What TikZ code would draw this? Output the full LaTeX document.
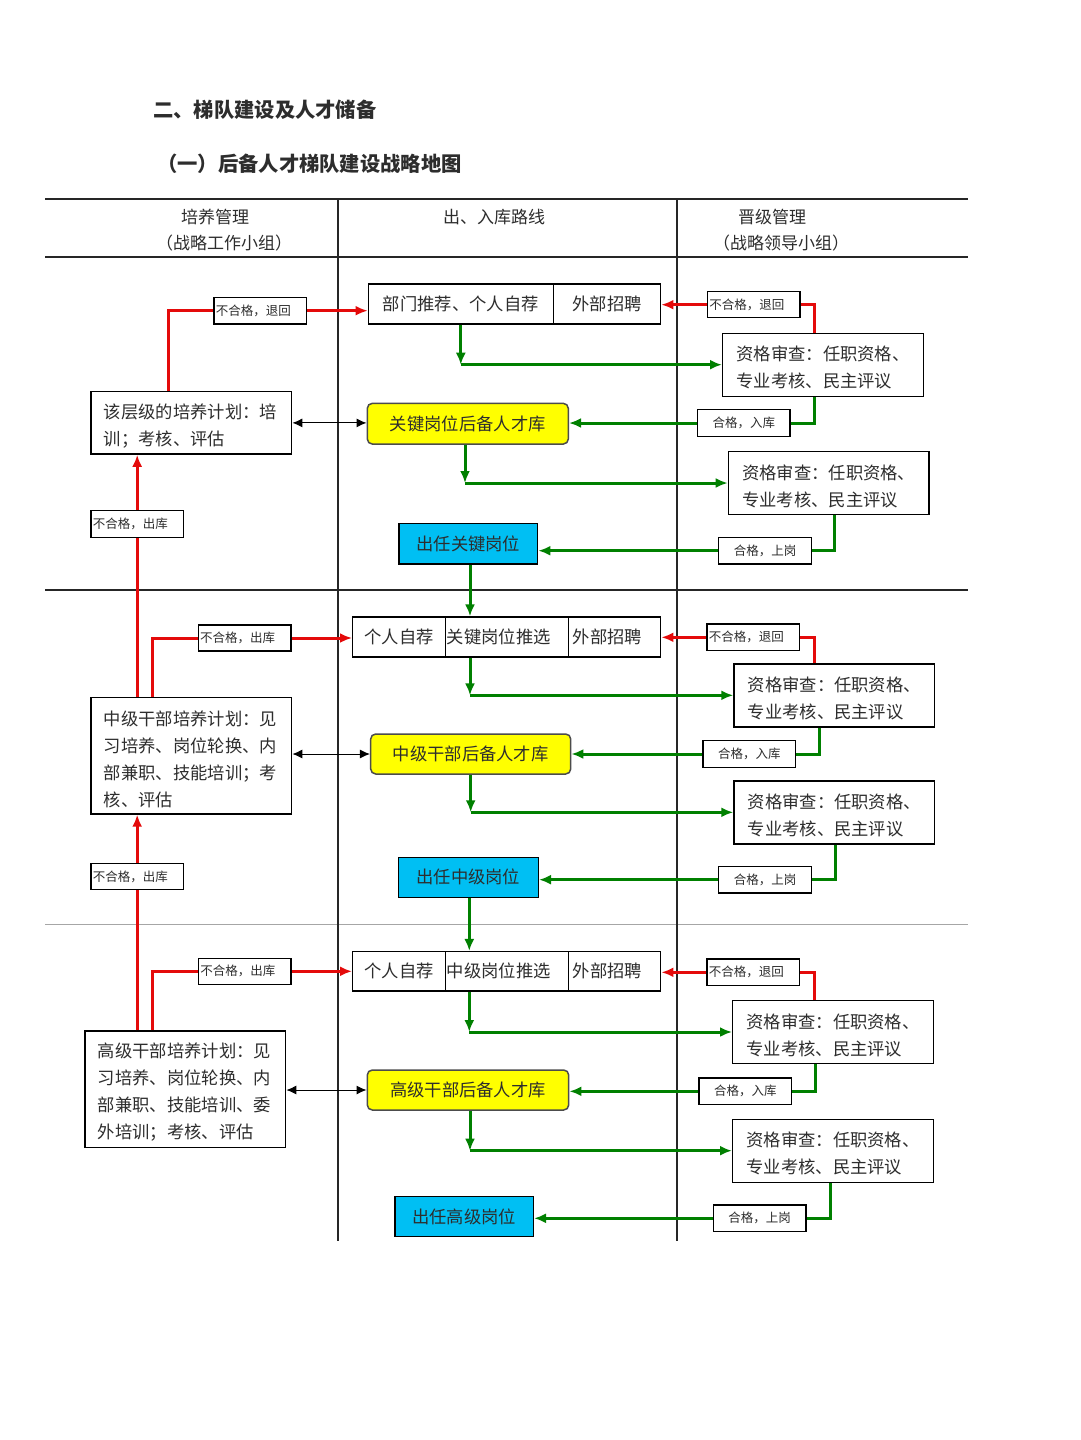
\documentclass[tikz,border=0pt]{standalone}
\usepackage{fontspec}
\setmainfont{Noto Sans CJK SC}
\usetikzlibrary{arrows.meta,calc}
\definecolor{rd}{RGB}{228,10,10}
\definecolor{gn}{RGB}{0,128,0}
\definecolor{yl}{RGB}{255,255,0}
\definecolor{bl}{RGB}{0,191,243}
\definecolor{txt}{RGB}{45,45,45}
\newcommand\tstrut{\rule{0pt}{21pt}}
\begin{document}
\begin{tikzpicture}[x=1pt,y=-1pt,
  box/.style={draw, line width=1.4pt, inner sep=0pt, text=txt, font=\fontsize{17.3}{27}\selectfont},
  cell/.style={box},
  rev/.style={box, minimum width=200.6, minimum height=63, align=left},
  plan/.style={box, text width=174.7, inner xsep=13, align=left},
  lblL/.style={draw, line width=1.3pt, fill=white, inner sep=0pt, inner xsep=2pt, text width=88.7, align=left, text=txt, font=\fontsize{12.5}{14}\selectfont},
  lblC/.style={draw, line width=1.3pt, fill=white, inner sep=0pt, minimum width=92.5, minimum height=26.5, text=txt, font=\fontsize{12.5}{14}\selectfont},
  yel/.style={box, fill=yl, rounded corners=5pt, draw=black!70, line width=1.5pt},
  blu/.style={box, fill=bl},
  rl/.style={draw=rd, line width=3pt},
  ra/.style={rl, -{Latex[length=12pt,width=10pt]}},
  gl/.style={draw=gn, line width=3pt},
  ga/.style={gl, -{Latex[length=12pt,width=10pt]}},
  ba/.style={draw=black, line width=1pt, {Latex[length=10pt,width=9pt]}-{Latex[length=10pt,width=9pt]}},
  tab/.style={draw=black!85, line width=1.4pt},
  hd/.style={text=txt, font=\fontsize{17}{20}\selectfont, inner sep=0pt},
  ttl/.style={text=txt, font=\fontsize{20.3}{24}\selectfont\bfseries, inner sep=0pt, anchor=west}
]
\fill[white] (0,0) rectangle (1080,1440);
\useasboundingbox (0,0) rectangle (1080,1440);

% titles
\node[ttl] (t1) at (153,110) {二、梯队建设及人才储备};
\node[ttl] (t2) at (157,164) {（一）后备人才梯队建设战略地图};

% table
\draw[tab] (45,199) -- (968,199);
\draw[tab] (45,257) -- (968,257);
\draw[tab] (45,590) -- (968,590);
\draw[draw=black!35, line width=1pt] (45,924) -- (968,924);
\draw[tab] (338,199) -- (338,1241);
\draw[tab] (677,199) -- (677,1241);

\node[hd] (h1) at (215,217) {培养管理};
\node[hd] (h1b) at (224,243) {（战略工作小组）};
\node[hd] (h2) at (494,217) {出、入库路线};
\node[hd] (h3) at (772,217) {晋级管理};
\node[hd] (h3b) at (781,243) {（战略领导小组）};

% ---------------- section 1
\node[cell, minimum width=185, minimum height=40] (s1a) at (460.8,304) {部门推荐、个人自荐};
\node[cell, minimum width=107.4, minimum height=40] (s1b) at (607,304) {外部招聘};
\node[plan, minimum height=62.3] (p1) at (191.3,422.9) {\tstrut 该层级的培养计划：培\\训；考核、评估};
\node[yel, minimum width=201, minimum height=40.7] (y1) at (467.8,423.7) {关键岗位后备人才库};
\node[rev] (r1) at (823,364.7) {\tstrut 资格审查：任职资格、\\专业考核、民主评议};
\node[rev] (r2) at (828.7,483) {\tstrut 资格审查：任职资格、\\专业考核、民主评议};
\node[blu, minimum width=138.7, minimum height=40.7] (b1) at (468.3,543.7) {出任关键岗位};
\node[lblL, minimum height=26.7] (lr1) at (260.3,310.7) {不合格，退回};
\node[lblL, minimum height=26] (lq1) at (753.7,304.7) {不合格，退回};
\node[lblC] (lg1) at (743.8,423) {合格，入库};
\node[lblC] (lg2) at (765,550.7) {合格，上岗};
\node[lblL, minimum height=27] (lo1) at (137.2,523.8) {不合格，出库};

% ---------------- section 2
\node[cell, minimum width=92.6, minimum height=40] (s2a) at (399,637) {个人自荐};
\node[cell, minimum width=123.4, minimum height=40, text width=120.4, inner xsep=1.5, align=left] (s2b) at (507,637) {关键岗位推选};
\node[cell, minimum width=92, minimum height=40, text width=88, inner xsep=2, align=left] (s2c) at (614.7,637) {\hspace{2pt}外部招聘};
\node[plan, minimum height=116.3] (p2) at (191.3,755.8) {\tstrut 中级干部培养计划：见\\习培养、岗位轮换、内\\部兼职、技能培训；考\\核、评估};
\node[yel, minimum width=200, minimum height=40] (y2) at (470.7,754) {中级干部后备人才库};
\node[rev] (r3) at (834.3,695.3) {\tstrut 资格审查：任职资格、\\专业考核、民主评议};
\node[rev] (r4) at (834.3,812.3) {\tstrut 资格审查：任职资格、\\专业考核、民主评议};
\node[blu, minimum width=140, minimum height=40] (b2) at (468.3,877.3) {出任中级岗位};
\node[lblL, minimum height=26] (lo2) at (244.5,638) {不合格，出库};
\node[lblL, minimum height=26.7] (lq2) at (753.3,637.3) {不合格，退回};
\node[lblC] (lg3) at (749.3,754) {合格，入库};
\node[lblC] (lg4) at (765,879.7) {合格，上岗};
\node[lblL, minimum height=26] (lo3) at (137.2,876.5) {不合格，出库};

% ---------------- section 3
\node[cell, minimum width=92.6, minimum height=39.3] (s3a) at (399,971.3) {个人自荐};
\node[cell, minimum width=123.4, minimum height=39.3, text width=120.4, inner xsep=1.5, align=left] (s3b) at (507,971.3) {中级岗位推选};
\node[cell, minimum width=92, minimum height=39.3, text width=88, inner xsep=2, align=left] (s3c) at (614.7,971.3) {\hspace{2pt}外部招聘};
\node[plan, minimum height=116.3] (p3) at (185.3,1089.2) {\tstrut 高级干部培养计划：见\\习培养、岗位轮换、内\\部兼职、技能培训、委\\外培训；考核、评估};
\node[yel, minimum width=201.4, minimum height=40] (y3) at (468,1090) {高级干部后备人才库};
\node[rev] (r5) at (833,1032) {\tstrut 资格审查：任职资格、\\专业考核、民主评议};
\node[rev] (r6) at (833,1150.7) {\tstrut 资格审查：任职资格、\\专业考核、民主评议};
\node[blu, minimum width=138.3, minimum height=40] (b3) at (464.2,1216.7) {出任高级岗位};
\node[lblL, minimum height=26] (lo4) at (244.7,971.3) {不合格，出库};
\node[lblL, minimum height=26.7] (lq3) at (753.3,972.3) {不合格，退回};
\node[lblC] (lg5) at (745.3,1091.3) {合格，入库};
\node[lblC] (lg6) at (759.7,1218.3) {合格，上岗};

% ---------------- connectors section 1
\draw[rl] ([xshift=-23pt]p1.north) |- (lr1.west);
\draw[ra] (lr1.east) -- (lr1.east -| s1a.west);
\draw[rl] ([xshift=-8.7pt]r1.north) |- (lq1.east);
\draw[ra] (lq1.west) -- (lq1.west -| s1b.east);
\coordinate (c1) at (s1a.south |- r1.west);
\draw[ga] (s1a.south) -- (c1);
\draw[ga] (c1) -- (r1.west);
\draw[gl] ([xshift=-8.7pt]r1.south) |- (lg1.east);
\draw[ga] (lg1.west) -- (lg1.west -| y1.east);
\coordinate (c2) at ([xshift=-2.8pt]y1.south |- r2.west);
\draw[ga] ([xshift=-2.8pt]y1.south) -- (c2);
\draw[ga] (c2) -- (r2.west);
\draw[gl] ([xshift=5.6pt]r2.south) |- (lg2.east);
\draw[ga] (lg2.west) -- (lg2.west -| b1.east);
\draw[ga] ([xshift=1.7pt]b1.south) -- ([xshift=1.7pt]b1.south |- s2b.north);
\draw[rl] (lo1.south |- p2.north) -- (lo1.south);
\draw[ra] (lo1.north) -- (lo1.north |- p1.south);
\draw[ba] (p1.east) -- (p1.east -| y1.west);

% ---------------- connectors section 2
\draw[rl] ([xshift=-39pt]p2.north) |- (lo2.west);
\draw[ra] (lo2.east) -- (lo2.east -| s2a.west);
\draw[rl] ([xshift=-20pt]r3.north) |- (lq2.east);
\draw[ra] (lq2.west) -- (lq2.west -| s2c.east);
\coordinate (c3) at ([xshift=-37pt]s2b.south |- r3.west);
\draw[ga] ([xshift=-37pt]s2b.south) -- (c3);
\draw[ga] (c3) -- (r3.west);
\draw[gl] ([xshift=-15pt]r3.south) |- (lg3.east);
\draw[ga] (lg3.west) -- (lg3.west -| y2.east);
\coordinate (c4) at (y2.south |- r4.west);
\draw[ga] (y2.south) -- (c4);
\draw[ga] (c4) -- (r4.west);
\draw[gl] ([xshift=0.7pt]r4.south) |- (lg4.east);
\draw[ga] (lg4.west) -- (lg4.west -| b2.east);
\draw[ga] ([xshift=1pt]b2.south) -- ([xshift=1pt]b2.south |- s3b.north);
\draw[rl] (lo3.south |- p3.north) -- (lo3.south);
\draw[ra] (lo3.north) -- (lo3.north |- p2.south);
\draw[ba] (y2.west -| p2.east) -- (y2.west);

% ---------------- connectors section 3
\draw[rl] ([xshift=-32.6pt]p3.north) |- (lo4.west);
\draw[ra] (lo4.east) -- (lo4.east -| s3a.west);
\draw[rl] ([xshift=-18.7pt]r5.north) |- (lq3.east);
\draw[ra] (lq3.west) -- (lq3.west -| s3c.east);
\coordinate (c5) at ([xshift=-37.7pt]s3b.south |- r5.west);
\draw[ga] ([xshift=-37.7pt]s3b.south) -- (c5);
\draw[ga] (c5) -- (r5.west);
\draw[gl] ([xshift=-17.7pt]r5.south) |- (lg5.east);
\draw[ga] (lg5.west) -- (lg5.west -| y3.east);
\coordinate (c6) at ([xshift=2pt]y3.south |- r6.west);
\draw[ga] ([xshift=2pt]y3.south) -- (c6);
\draw[ga] (c6) -- (r6.west);
\draw[gl] ([xshift=-3pt]r6.south) |- (lg6.east);
\draw[ga] (lg6.west) -- (lg6.west -| b3.east);
\draw[ba] (y3.west -| p3.east) -- (y3.west);
\end{tikzpicture}
\end{document}
